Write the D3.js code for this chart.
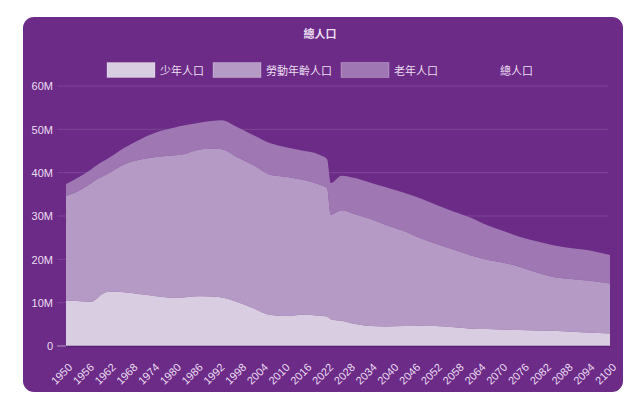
<!DOCTYPE html>
<html>
<head>
<meta charset="utf-8">
<script src="https://cdn.jsdelivr.net/npm/d3@7"></script>
<style>
  body { margin: 0; background: #fff; }
  svg text { font-family: "Liberation Sans", Arial, "Noto Sans CJK TC", sans-serif; }
</style>
</head>
<body>
<div id="chart"></div>
<script>
var years = [1950, 1953, 1957, 1958, 1960, 1962, 1966, 1970, 1975, 1980, 1982, 1986, 1990, 1993,
             1997, 2002, 2006, 2011, 2015, 2020, 2022, 2023, 2026, 2029, 2034, 2038, 2043, 2048,
             2052, 2057, 2062, 2066, 2070, 2075, 2080, 2084, 2090, 2094, 2100];
// millions
var youth   = [10.5, 10.4, 10.2, 10.6, 12.0, 12.5, 12.4, 12.0, 11.5, 11.1, 11.2, 11.5, 11.4, 11.2,
               10.2, 8.6, 7.2, 6.9, 7.2, 7.0, 6.8, 6.2, 5.8, 5.2, 4.6, 4.5, 4.6, 4.7,
               4.6, 4.3, 4.0, 3.9, 3.8, 3.7, 3.6, 3.5, 3.3, 3.1, 2.9];
var working = [24.1, 25.2, 27.4, 27.6, 27.1, 27.5, 29.5, 30.9, 32.1, 32.9, 33.0, 33.7, 34.2, 34.2,
               33.5, 33.0, 32.4, 32.1, 31.2, 30.2, 29.6, 24.1, 25.5, 25.4, 24.7, 23.5, 22.0, 20.1,
               19.0, 17.9, 16.8, 16.0, 15.5, 14.6, 13.3, 12.5, 12.1, 12.0, 11.5];
var elderly = [2.8, 3.1, 3.2, 3.2, 3.4, 3.5, 3.8, 4.6, 5.7, 6.4, 6.6, 6.2, 6.3, 6.7,
               6.9, 6.9, 7.3, 6.8, 6.7, 6.9, 6.7, 7.3, 8.0, 8.3, 8.4, 8.7, 8.8, 9.2,
               9.0, 8.8, 8.7, 8.0, 7.4, 6.9, 7.2, 7.3, 7.1, 7.0, 6.6];

var seriesKeys = ["youth", "working", "elderly"];
var legendLabels = ["少年人口", "勞動年齡人口", "老年人口", "總人口"];
var colors = ["#d9cde1", "#b49ac4", "#9f78b3", "none"];
var title = "總人口";
var yTicks = [0, 10e6, 20e6, 30e6, 40e6, 50e6, 60e6];
var xTicks = d3.range(1950, 2101, 6);

var width = 640, height = 397;
var bg = "#6b2b87", textColor = "#ecdff2";

var rows = years.map(function(y, i) {
  return { year: y, youth: youth[i] * 1e6, working: working[i] * 1e6, elderly: elderly[i] * 1e6 };
});

var svg = d3.select("#chart").append("svg")
  .attr("width", width)
  .attr("height", height);

svg.append("rect")
  .attr("x", 23).attr("y", 17)
  .attr("width", 600).attr("height", 375)
  .attr("rx", 11)
  .attr("fill", bg);

var x = d3.scaleLinear().domain([1950, 2100]).range([66, 610]);
var y = d3.scaleLinear().domain([0, 60e6]).range([346, 86]);

// grid + y ticks
svg.append("g")
  .selectAll("line")
  .data(yTicks)
  .enter().append("line")
    .attr("x1", 57)
    .attr("x2", function(d) { return d > 0 ? 608 : 66; })
    .attr("y1", function(d) { return y(d); })
    .attr("y2", function(d) { return y(d); })
    .attr("stroke", function(d) { return d > 0 ? "rgba(255,255,255,0.13)" : "rgba(255,255,255,0.5)"; })
    .attr("stroke-width", 1);

var stack = d3.stack().keys(seriesKeys);
var layers = stack(rows);

var area = d3.area()
  .curve(d3.curveMonotoneX)
  .x(function(d) { return x(d.data.year); })
  .y0(function(d) { return y(d[0]); })
  .y1(function(d) { return y(d[1]); });

svg.append("g")
  .selectAll("path")
  .data(layers.slice().reverse())
  .enter().append("path")
    .attr("d", area)
    .attr("fill", function(d) { return colors[seriesKeys.indexOf(d.key)]; });

// x axis line
svg.append("line")
  .attr("x1", 66).attr("x2", 610)
  .attr("y1", 346.5).attr("y2", 346.5)
  .attr("stroke", "#5a1f74")
  .attr("stroke-width", 1.5);

var yAxis = d3.axisLeft(y)
  .tickValues(yTicks)
  .tickSize(0)
  .tickPadding(0)
  .tickFormat(function(d) { return d === 0 ? "0" : (d / 1e6) + "M"; });

var gy = svg.append("g")
  .attr("transform", "translate(53,0)")
  .call(yAxis);
gy.select(".domain").remove();
gy.selectAll("text")
  .attr("fill", textColor)
  .attr("font-size", "11px")
  .attr("dy", "0.35em");

var gx = svg.append("g");
gx.selectAll("text")
  .data(xTicks)
  .enter().append("text")
    .attr("transform", function(d) { return "translate(" + (x(d) + 7) + ",368) rotate(-45)"; })
    .attr("text-anchor", "end")
    .attr("fill", textColor)
    .attr("font-size", "11px")
    .text(function(d) { return d; });

svg.append("text")
  .attr("x", 320).attr("y", 38)
  .attr("text-anchor", "middle")
  .attr("fill", textColor)
  .attr("font-size", "11px")
  .attr("font-weight", "bold")
  .text(title);

// legend
var legend = svg.append("g");
var items = legend.selectAll("g")
  .data(legendLabels)
  .enter().append("g");
items.append("rect")
  .attr("width", 48).attr("height", 15)
  .attr("y", 62.5)
  .attr("fill", function(d, i) { return colors[i]; })
  .attr("stroke", function(d, i) { return i < 3 ? "rgba(255,255,255,0.25)" : "none"; });
items.append("text")
  .attr("x", 53).attr("y", 75)
  .attr("fill", textColor)
  .attr("font-size", "11px")
  .text(function(d) { return d; });

var offset = 0, positions = [];
items.each(function() {
  var w = 53 + d3.select(this).select("text").node().getComputedTextLength();
  positions.push(offset);
  offset += w + 9;
});
var start = 320 - (offset - 9) / 2;
items.attr("transform", function(d, i) { return "translate(" + (start + positions[i]) + ",0)"; });
</script>
</body>
</html>
